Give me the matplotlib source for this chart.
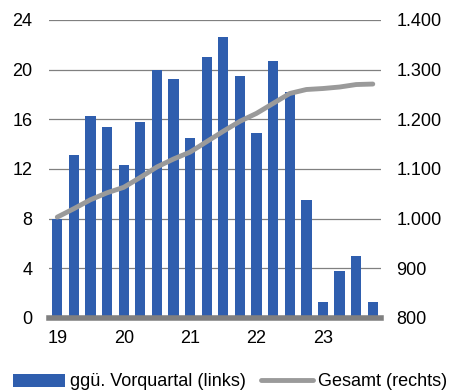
import matplotlib.pyplot as plt
import numpy as np

plt.rcParams['font.family'] = ['Liberation Sans', 'DejaVu Sans']

quarters = ['19Q1', '19Q2', '19Q3', '19Q4', '20Q1', '20Q2', '20Q3', '20Q4',
            '21Q1', '21Q2', '21Q3', '21Q4', '22Q1', '22Q2', '22Q3', '22Q4',
            '23Q1', '23Q2', '23Q3', '23Q4']
qoq_change = [8.0, 13.1, 16.3, 15.4, 12.3, 15.8, 20.0, 19.25, 14.5, 21.0,
              22.6, 19.5, 14.9, 20.7, 18.2, 9.5, 1.25, 3.75, 5.0, 1.3]
total = [1003, 1020, 1038, 1052, 1063, 1083, 1104, 1120, 1134, 1155,
         1176, 1196, 1212, 1232, 1252, 1260, 1262, 1265, 1270, 1271]
year_labels = ['19', '20', '21', '22', '23']
year_pos = [0, 4, 8, 12, 16]

blue = '#2F5EAE'
grey_line = '#9A9A9A'

fig = plt.figure(figsize=(4.51, 3.92), dpi=100)
ax = fig.add_axes([0.1086, 0.189, 0.7364, 0.76])
x = np.arange(len(quarters))

ax.bar(x, qoq_change, width=0.62, color=blue, zorder=2, label='ggü. Vorquartal (links)')
ax.set_ylim(0, 24)
ax.set_xlim(-0.5, len(quarters) - 0.5)
ax.set_yticks([0, 4, 8, 12, 16, 20, 24])
ax.yaxis.grid(True, color='#808080', linewidth=0.9, zorder=0)
ax.set_axisbelow(True)
for s in ['top', 'left', 'right']:
    ax.spines[s].set_visible(False)
ax.spines['bottom'].set_color('#808080')
ax.spines['bottom'].set_linewidth(4)
ax.spines['bottom'].set_zorder(3)
ax.set_xticks(year_pos)
ax.set_xticklabels(year_labels)
ax.tick_params(axis='x', length=0, pad=9, labelsize=13)
ax.tick_params(axis='y', length=0, pad=12, labelsize=13)

ax2 = ax.twinx()
ax2.plot(x, total, color=grey_line, linewidth=3.5, solid_capstyle='round', zorder=4,
         label='Gesamt (rechts)')
ax2.set_ylim(800, 1400)
ax2.set_yticks([800, 900, 1000, 1100, 1200, 1300, 1400])
ax2.set_yticklabels(['800', '900', '1.000', '1.100', '1.200', '1.300', '1.400'])
ax2.tick_params(axis='y', length=0, pad=11, labelsize=13)
for s in ['top', 'left', 'right', 'bottom']:
    ax2.spines[s].set_visible(False)

h1, l1 = ax.get_legend_handles_labels()
h2, l2 = ax2.get_legend_handles_labels()
fig.legend(h1 + h2, l1 + l2, loc='center', bbox_to_anchor=(0.51, 10 / 392), ncol=2,
           frameon=False, fontsize=13, handlelength=2.9, handletextpad=0.28,
           columnspacing=0.8, borderpad=0, borderaxespad=0)

fig.savefig('out.png', dpi=100)
